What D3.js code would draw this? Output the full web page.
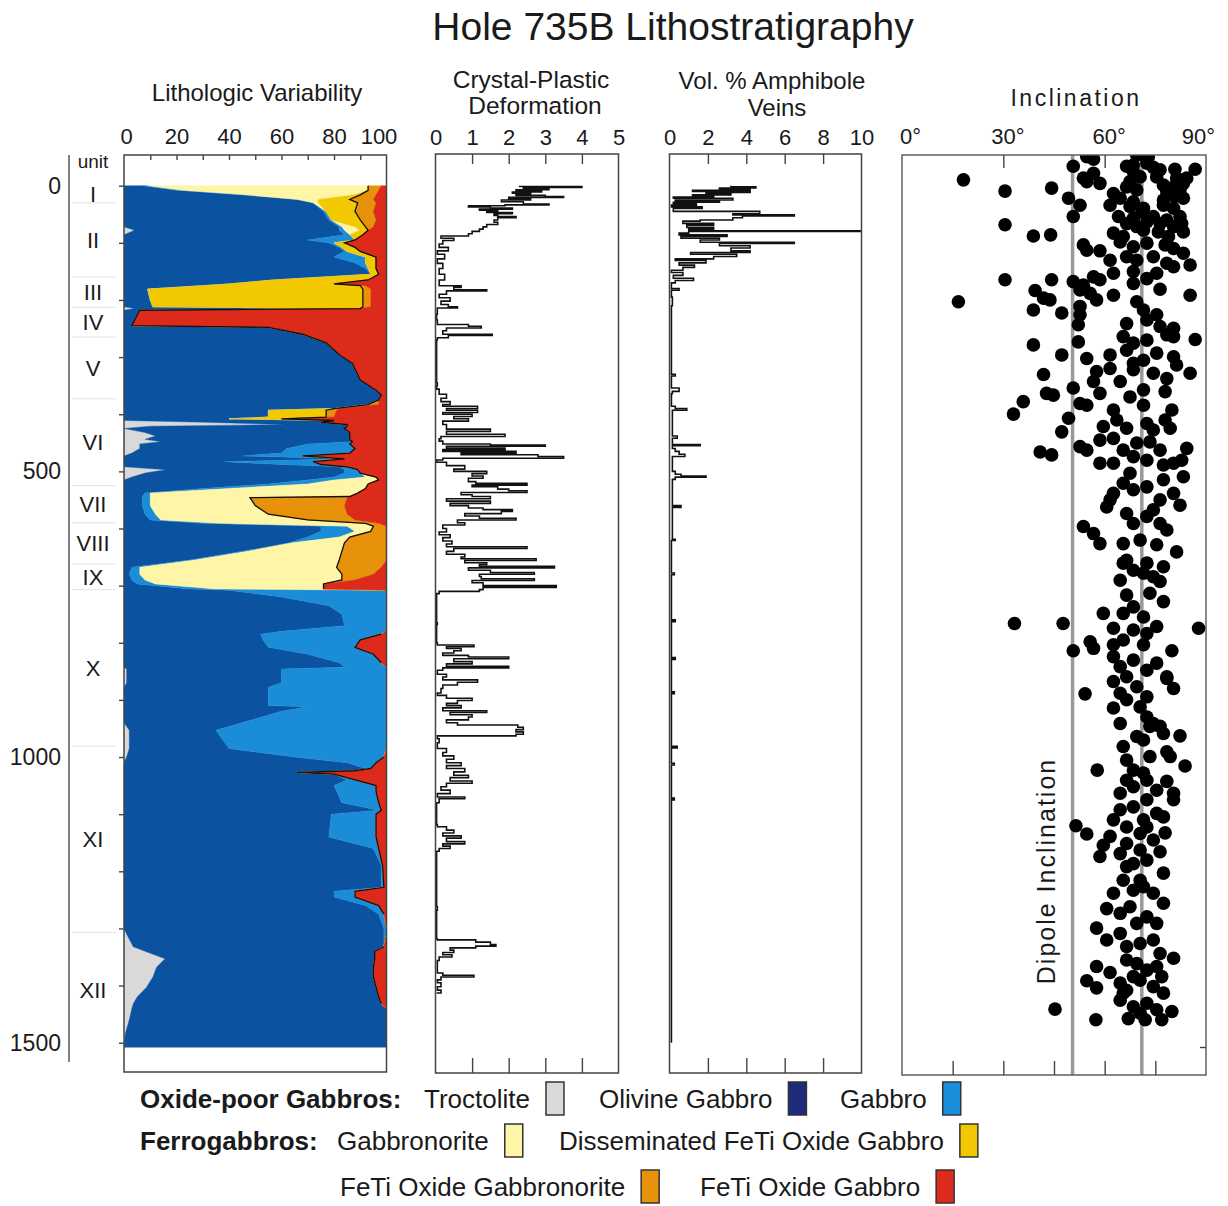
<!DOCTYPE html>
<html>
<head>
<meta charset="utf-8">
<script src="https://cdn.jsdelivr.net/npm/d3@7"></script>
<style>
  body { margin: 0; background: #fff; }
  text { font-family: "Liberation Sans", Arial, Helvetica, sans-serif; }
</style>
</head>
<body>
<script>
// ---- data -------------------------------------------------------------
// lithology, percent of core per depth sample (m)
let depths = [0,8,16,24,30,45,60,72,78,86,
  95,100,108,115,125,135,145,155,165,172,
  175,181,200,212,215,218,245,248,260,275,
  296,311,340,358,366,375,383,390,393,405,
  408,411,414,418,421,425,432,438,444,448,
  452,460,468,473,478,483,488,492,497,503,
  510,515,522,530,538,544,546,560,575,585,
  591,596,605,615,625,640,655,668,680,690,
  697,706,708,720,735,750,770,780,785,795,
  808,820,835,843,846,870,878,910,912,920,
  940,953,985,1000,1010,1020,1024,1027,1030,1040,
  1050,1060,1080,1093,1100,1140,1160,1190,1228,1235,
  1245,1260,1275,1300,1310,1332,1340,1353,1368,1385,
  1403,1420,1432,1440,1460,1484,1508];

let troctolite = [0,0,0,0,0,0,0,0,4,0,
  0,0,0,0,0,0,0,0,0,0,
  0,0,0,0,4,0,0,0,0,0,
  0,0,0,0,0,0,0,0,0,0,
  0,0,30,62,10,0,8,12,8,14,
  6,6,3,0,0,0,0,0,16,8,
  3,0,0,0,0,0,0,0,0,0,
  0,0,0,0,0,0,0,0,0,0,
  0,0,0,0,0,0,0,0,0,0,
  0,0,0,0,1,1,0,0,0,0,
  0,2,2,1,0,0,0,0,0,0,
  0,0,0,0,0,0,0,0,0,0,
  0,0,0,0,1,3.5,8,15.6,12.4,11,
  8.6,5,3.5,3,2,0.5,0];

let olivineGabbro = [7,20,45,66,72,76,78,82,78,84,
  70,78,82,84,80,88,92,94,57,40,
  30,9,10,11,86,6,3,55,68,77,
  82,87,90,96,98,97,93,80,55,55,
  40,80,45,23,75,84,78,74,78,73,
  64,56,57,45,84,38,60,82,68,76,
  77,70,55,30,8,7,7,7,8,10,
  30,75,75,70,63,45,25,3,2,3,
  5,25,40,60,78,83,84,60,52,53,
  55,70,82,84,59,59,55,55,70,60,
  45,33,38,64,85,92,88,66,80,85,
  80,81,83,97,79,78,95,98,98,80,
  80,92,97,99,98,95.5,87.5,79.9,82.6,84,
  87.4,92,94.5,97,98,99.5,100];

let gabbro = [2,2,1,0,0,1,1,1,2,2,
  18,2,1,1,12,4,1,0,0,0,
  0,0,0,0,0,0,0,0,0,0,
  0,0,0,0,0,0,0,0,0,0,
  0,0,0,0,0,0,0,0,0,0,
  16,26,26,23,0,34,15,3,5,6,
  12,10,15,10,2,3,3,3,4,4,
  6,10,13,12,1,2,2,3,4,5,
  7,10,60,40,22,17,16,40,46,37,
  33,25,16,16,40,40,45,45,30,40,
  55,65,60,34,11,2,0,0,0,3,
  16,15,14,1,17,18,2,0.5,1,8,
  8,5,2,1,1,0,0,0,0,0,
  0,0,0,0,0,0,0];

let gabbronorite = [84,71,42,8,2,0,0,5,6,0,
  0,0,0,0,0,0,0,0,0,0,
  0,0,0,0,0,0,0,0,0,0,
  0,0,0,0,0,0,0,0,0,0,
  0,0,0,0,0,0,0,0,0,0,
  0,0,0,0,0,0,0,0,0,0,
  4,17,23,52,79,76,38,40,43,56,
  56,10,6,4,20,36,55,75,77,75,
  64,41,0,0,0,0,0,0,0,0,
  0,0,0,0,0,0,0,0,0,0,
  0,0,0,0,0,0,0,0,0,0,
  0,0,0,0,0,0,0,0,0,0,
  0,0,0,0,0,0,0,0,0,0,
  0,0,0,0,0,0,0];

let dissOxideGabbro = [0,0,2,12,15,11,11,4,3,5,
  0,4,5,5,4,4,3,3,36,40,
  60,82,81,80,0,0,0,0,0,0,
  0,0,0,0,0,0,0,0,22,22,
  20,0,0,0,0,0,0,0,0,0,
  0,0,0,0,0,0,0,0,0,0,
  0,0,0,0,0,0,0,0,0,0,
  0,0,0,0,0,0,0,0,0,0,
  0,0,0,0,0,0,0,0,0,0,
  0,0,0,0,0,0,0,0,0,0,
  0,0,0,0,0,0,0,0,0,0,
  0,0,0,0,0,0,0,0,0,0,
  0,0,0,0,0,0,0,0,0,0,
  0,0,0,0,0,0,0];

let oxideGabbronorite = [5,4,6,9,7,7,6,3,0,0,
  0,0,0,0,0,0,0,0,0,0,
  2,3,3,3,0,0,0,0,0,0,
  0,0,0,0,0,0,4,2,4,3,
  0,0,0,0,0,0,0,0,0,0,
  0,0,0,0,0,0,0,0,0,0,
  0,0,0,0,0,0,37,34,30,18,
  5,5,6,14,16,17,18,17,12,5,
  0,0,0,0,0,0,0,0,0,0,
  0,0,0,0,0,0,0,0,0,0,
  0,0,0,0,0,0,0,0,0,0,
  0,0,0,0,0,0,0,0,0,0,
  0,0,0,0,0,0,0,0,0,0,
  0,0,0,0,0,0,0];

let oxideGabbro = [2,3,4,5,4,5,4,5,7,9,
  12,16,12,10,4,4,4,3,7,20,
  8,6,6,6,10,94,97,45,32,23,
  18,13,10,4,2,3,3,18,19,20,
  40,20,25,15,15,16,14,14,14,13,
  14,12,14,32,16,28,25,15,11,10,
  4,3,7,8,11,14,15,16,15,12,
  3,0,0,0,0,0,0,2,5,12,
  24,24,0,0,0,0,0,0,2,10,
  12,5,2,0,0,0,0,0,0,0,
  0,0,0,1,4,6,12,34,20,12,
  4,4,3,2,4,4,3,1.5,1,12,
  12,3,1,0,0,1,4.5,4.5,5,5,
  4,3,2,0,0,0,0];

let lithKeys = ["troctolite","olivineGabbro","gabbro","gabbronorite","dissOxideGabbro","oxideGabbronorite","oxideGabbro"];
let lithNames = ["Troctolite","Olivine Gabbro","Gabbro","Gabbronorite","Disseminated FeTi Oxide Gabbro","FeTi Oxide Gabbronorite","FeTi Oxide Gabbro"];
let lithColors = ["#d9d9d9","#0b53a0","#1b8dd8","#fff5a6","#f2c800","#e8920c","#dc2b1b"];
let swatchColors = ["#d9d9d9","#1d2b7a","#1b8edc","#fff5a6","#f2c800","#e8920c","#dc2b1b"];

// units
let unitNames = ["I","II","III","IV","V","VI","VII","VIII","IX","X","XI","XII"];
let unitTops = [0,30,160,213,265,373,525,590,662,707,981,1307,1508];

// crystal-plastic deformation [depth m, intensity]
let deformation = [[0,2.3],[1.5,4.0],[3,2.4],[5,3.1],[7,2.2],[9,2.9],[11,2.1],[13,2.6],[15,2.2],[17,3.0],
  [19,3.5],[20.5,2.0],[23,2.6],[25,1.8],[28,2.4],[32,3.1],[33.5,1.9],[35,0.9],[37,1.5],[39,2.1],
  [41,1.2],[43,1.7],[45,1.4],[47,2.1],[49,1.6],[52,1.7],[54,2.2],[56,1.7],[60,1.6],[64,1.7],
  [68,1.4],[72,1.3],[76,1.2],[80,1.0],[84,0.9],[88,0.15],[92,0.5],[96,0.2],[102,0.1],[108,0.35],
  [114,0.05],[120,0.25],[128,0.05],[136,0.2],[145,0.1],[155,0.25],[165,0.1],[175,0.7],[178,0.5],[182,1.4],
  [184,0.3],[190,0.1],[196,0.4],[202,0.15],[208,0.35],[212,0.6],[214,0.05],[225,0.03],[235,0.05],[243,0.9],
  [246,1.25],[249,0.3],[254,0.2],[260,1.55],[262,0.35],[266,0.05],[270,0.03],[345,0.05],[350,0.03],[356,0.1],
  [365,0.3],[372,0.15],[378,0.4],[383,0.2],[386,1.15],[390,0.3],[393,1.15],[397,0.2],[400,1.0],[404,0.5],
  [408,0.9],[412,0.2],[418,0.3],[426,1.5],[430,0.3],[435,1.9],[439,0.15],[443,0.1],[447,0.2],[452,1.5],
  [454,3.0],[456,0.3],[459,1.9],[462,0.2],[465,2.2],[468,0.7],[471,2.8],[474,3.5],[477,0.2],[480,0.03],
  [484,0.3],[490,0.8],[496,0.5],[500,1.4],[504,1.0],[508,1.3],[512,0.9],[518,1.1],[521,2.5],[524,1.0],
  [527,1.7],[531,2.0],[534,2.5],[537,0.7],[541,1.0],[544,1.5],[548,0.3],[552,1.5],[556,0.4],[560,0.9],
  [564,1.3],[567,2.1],[570,1.8],[574,0.8],[578,1.2],[582,2.2],[585,0.6],[590,0.8],[594,0.2],[600,0.3],
  [606,0.1],[611,0.4],[616,0.2],[622,0.45],[627,0.3],[632,2.5],[635,0.5],[640,0.3],[645,0.8],[650,0.7],
  [653,2.75],[656,0.8],[660,1.4],[663,1.2],[666,3.25],[669,0.9],[673,1.5],[677,2.7],[680,1.2],[684,1.25],
  [688,2.7],[691,1.0],[695,1.3],[700,3.3],[703,1.3],[707,1.2],[710,0.1],[714,0.03],[765,0.05],[768,0.03],
  [800,0.05],[804,1.05],[807,0.3],[810,0.7],[814,0.5],[818,0.2],[822,0.9],[825,2.0],[828,0.5],[833,1.0],
  [837,0.3],[841,2.0],[844,0.2],[848,0.05],[855,0.3],[860,0.2],[865,1.15],[869,0.6],[874,0.2],[880,0.15],
  [888,0.05],[892,0.3],[897,1.0],[901,0.6],[906,0.3],[910,0.7],[914,0.2],[919,1.4],[922,0.4],[926,1.0],
  [930,0.9],[935,0.3],[940,0.6],[944,2.25],[948,2.4],[952,2.2],[956,2.4],[960,2.2],[963,0.05],[968,0.1],
  [975,0.05],[985,0.3],[992,0.2],[998,0.5],[1004,0.3],[1010,0.7],[1015,0.3],[1020,0.8],[1026,0.5],[1032,0.9],
  [1036,0.4],[1042,1.0],[1046,0.3],[1052,0.15],[1058,0.4],[1064,0.05],[1070,0.8],[1073,0.1],[1080,0.03],[1118,0.05],
  [1122,0.3],[1128,0.5],[1133,0.2],[1138,0.7],[1142,0.3],[1148,0.8],[1152,0.2],[1156,0.4],[1160,0.1],[1165,0.03],
  [1262,0.05],[1268,0.03],[1318,0.05],[1320,1.1],[1324,1.5],[1328,1.65],[1331,1.1],[1334,0.4],[1338,0.5],[1342,0.2],
  [1346,0.45],[1350,0.1],[1356,0.05],[1378,0.2],[1382,1.05],[1385,0.15],[1390,0.05],[1395,0.15],[1402,0.05],[1408,0.15],
  [1413,0.03]];

// amphibole veins, vol. % [depth m, percent]
let amphibole = [[0,3.2],[2,4.5],[4,2.6],[6,4.2],[8,1.2],[10,4.2],[12,1.9],[14,3.2],[16,1.2],[18,2.3],
  [20,0.2],[22,3.3],[25,0.3],[27,2.6],[29,0.2],[31,1.4],[34,0.1],[37,1.7],[40,0.2],[45,4.7],
  [49,3.3],[51,6.5],[53,3.8],[56,3.3],[60,1.6],[62,0.7],[66,2.3],[69,0.9],[73,2.3],[76,1.0],
  [79,10],[80,1.0],[83,0.5],[86,3.0],[89,0.6],[92,2.6],[95,1.6],[99,6.5],[101,2.6],[105,4.2],
  [109,3.2],[114,4.2],[117,1.1],[120,3.5],[124,2.3],[128,0.3],[131,1.9],[135,0.5],[139,1.3],[143,0.7],
  [148,0.1],[152,0.7],[157,0.2],[162,1.25],[166,0.3],[170,0.1],[180,0.5],[183,0.1],[195,0.15],[210,0.1],
  [330,0.3],[333,0.1],[354,0.5],[360,0.15],[364,0.1],[386,0.3],[390,0.9],[393,0.15],[438,0.4],[442,0.15],
  [453,1.6],[455,0.15],[460,0.3],[465,0.5],[470,0.8],[474,0.15],[500,0.3],[505,0.6],[508,1.9],[510,0.3],
  [514,0.15],[560,0.6],[563,0.15],[619,0.3],[621,0.1],[678,0.25],[681,0.1],[760,0.3],[763,0.1],[826,0.3],
  [829,0.1],[886,0.25],[889,0.1],[981,0.4],[984,0.1],[1011,0.25],[1014,0.1],[1072,0.25],[1075,0.1],[1500,0.1]];

// paleomagnetic inclination [depth m, degrees]
let inclination = [
  [3,54.7],[7,56.7],[0,69.5],[0,71.5],[4,72.9],[19,50.7],[19,66.5],[17,68.5],[14,72.5],[21,74.4],
  [25,76.4],[24,80.8],[24,86.8],[39,53.7],[31,56.7],[28,68.5],[37,70.5],[37,75.4],[39,81.3],[39,84.3],
  [42,18.2],[45,54.7],[48,58.6],[45,67.5],[54,66.5],[51,77.4],[54,80.4],[48,83.3],[61,30.5],[56,44.3],
  [65,62.6],[59,69.5],[62,78.4],[59,82.3],[73,49.3],[73,64.6],[79,68.5],[76,77.4],[70,80.8],[73,83.3],
  [85,52.7],[85,61.6],[87,67.5],[90,71.5],[85,77.4],[90,80.4],[104,50.7],[104,64.1],[96,71],[107,68.5],
  [104,74.4],[110,78.4],[104,82.3],[118,30.5],[116,66.5],[121,69.5],[113,72.5],[116,76.4],[121,80.4],[116,82.8],
  [137,38.9],[135,44],[132,62.6],[138,65.5],[127,71.5],[130,75.9],[138,78.9],[130,83.3],[152,53.7],[161,54.7],
  [162,58.6],[147,64.6],[155,68.5],[149,72.5],[152,77.9],[158,80.4],[166,83.3],[172,66.5],[178,69.5],[172,74.4],
  [183,78.4],[186,85.3],[189,80.4],[178,61.6],[211,30.5],[211,44.3],[214,50.7],[220,53.7],[206,56.7],[211,58.6],
  [200,62.6],[197,68.5],[200,75.4],[209,72.5],[229,39.4],[242,41.9],[245,43.8],[228,52.7],[234,55.7],[237,62.6],
  [217,68.5],[227,76.4],[237,85.3],[248,16.7],[262,38.9],[267,47.3],[256,52.7],[245,57.6],[270,52.7],[248,69.5],
  [262,71.5],[287,52.2],[285,66.5],[279,72.5],[270,75.4],[290,76.4],[304,78.4],[293,80.4],[321,38.9],[316,52.2],
  [307,65.5],[313,72.5],[318,68.5],[312,86.8],[307,80.4],[338,47.3],[344,54.7],[338,61.6],[330,66.5],[352,68.5],
  [347,71.5],[335,75.4],[341,80.4],[355,81.3],[371,41.9],[366,57.6],[361,61.6],[383,56.7],[383,64.6],[363,68.5],
  [369,74.4],[378,78.4],[369,85.3],[394,50.7],[403,42.8],[406,44.8],[420,52.7],[403,58.6],[409,67.5],[397,71.5],
  [400,77.9],[417,35.9],[438,33],[423,54.7],[431,62.6],[423,71.5],[431,79.9],[445,49.3],[468,47.3],[459,59.6],
  [448,63.6],[462,66.5],[454,72.5],[465,74.4],[448,77.9],[462,79.4],[502,40.9],[507,44.3],[493,52.7],[482,58.6],
  [479,62.6],[499,54.7],[499,65.5],[487,69.5],[485,73.4],[499,76.4],[496,84.3],[521,58.6],[521,62.6],[510,68.5],
  [516,72.5],[524,77.4],[521,80.4],[516,82.8],[555,65.5],[538,67.5],[572,62.6],[583,61.6],[566,68.5],[561,72.5],
  [549,77.4],[572,80.4],[544,83.3],[583,76.4],[600,74.4],[592,82.3],[595,60.6],[606,66.5],[623,68.5],[611,72.5],
  [623,76.4],[634,78.4],[628,53.7],[640,56.7],[657,58.6],[657,65.5],[651,70.5],[659,75.4],[671,81.3],[685,66.5],
  [690,72.5],[690,65.5],[702,68.5],[707,71.5],[713,74.4],[696,77.4],[721,76.4],[719,64.6],[744,66.5],[775,65.5],
  [764,68.5],[781,71.5],[755,77.4],[775,59.6],[741,73.4],[792,33.3],[792,47.7],[800,62.6],[803,68.5],[809,72.5],
  [797,75.4],[800,87.8],[838,50.7],[823,55.7],[834,56.7],[828,62.6],[820,65.5],[828,71.5],[838,79.9],[848,62.6],
  [865,64.6],[854,68.5],[871,72.5],[859,75.4],[882,78.4],[882,66.5],[911,54.2],[890,62.6],[910,64.6],[899,69.5],
  [916,72.5],[902,80.4],[885,78.4],[935,62.6],[921,66.5],[933,70.5],[950,72.5],[961,74.4],[961,64.6],[966,76.4],
  [1000,65.5],[983,69.5],[989,71.5],[978,77.4],[982,82.3],[966,73.4],[1040,57.8],[1023,66.5],[1040,68.5],[1045,71.5],
  [1017,73.4],[1009,78.4],[1033,83.8],[1017,79.4],[1057,66.5],[1068,68.5],[1057,72.5],[1074,75.4],[1059,78.4],[1079,80.4],
  [1079,64.6],[1107,64.6],[1124,62.6],[1102,68.5],[1090,72.5],[1113,75.4],[1119,77.4],[1090,80.4],[1124,71.5],[1134,51.5],
  [1148,54.7],[1152,61.6],[1167,59.6],[1136,66.5],[1147,70.5],[1136,72.5],[1146,77.9],[1164,66.5],[1158,74.4],[1186,58.6],
  [1181,64.6],[1203,66.5],[1175,70.5],[1178,76.4],[1192,72.5],[1214,77.4],[1198,68.5],[1226,65.5],[1243,68.5],[1248,62.6],
  [1237,71.5],[1248,74.4],[1265,77.4],[1226,70.5],[1274,60.6],[1282,64.6],[1271,67.5],[1288,72.5],[1299,75.4],[1307,57.6],
  [1299,69.5],[1327,60.6],[1316,64.6],[1338,66.5],[1333,70.5],[1327,74.4],[1358,80.4],[1350,76.4],[1372,57.6],[1382,61.6],
  [1361,66.5],[1367,69.5],[1378,72.5],[1372,75.4],[1389,68.5],[1389,76.9],[1396,54.7],[1408,57.6],[1400,64.6],[1412,66.5],
  [1395,70.5],[1406,74.4],[1417,77.4],[1417,65.5],[1429,64.6],[1440,68.5],[1434,72.5],[1445,75.4],[1448,79.9],[1444,45.3],
  [1462,57.4],[1460,67],[1462,72],[1462,76.9],[1451,70.5]];

let dipoleLines = [50.5, 71];

let lithTicks = [0,20,40,60,80,100];
let deformTicks = [0,1,2,3,4,5];
let amphTicks = [0,2,4,6,8,10];
let incTicks = [0,30,60,90];
let depthTicks = [0,500,1000,1500];

// ---- layout ----------------------------------------------------------
let svg = d3.select("body").append("svg")
  .attr("width", 1228)
  .attr("height", 1206);

let yDepth = d3.scaleLinear().domain([0,1500]).range([185.7,1042.7]);
let yInc = d3.scaleLinear().domain([0,1508]).range([155,1047]);

let xLith = d3.scaleLinear().domain([0,100]).range([124,386.5]);
let xDef = d3.scaleLinear().domain([0,5]).range([435.5,618.5]);
let xAmph = d3.scaleLinear().domain([0,10]).range([669.5,861.5]);
let xInc = d3.scaleLinear().domain([0,90]).range([902,1206]);

let intFmt = d3.format("d");

function label(x, y, txt, size, opts) {
  opts = opts || {};
  return svg.append("text")
    .attr("x", x).attr("y", y)
    .attr("text-anchor", opts.anchor || "middle")
    .attr("font-size", size)
    .attr("font-weight", opts.weight || "normal")
    .style("letter-spacing", opts.spacing || "0px")
    .style("fill", "#1a1a1a")
    .text(txt);
}

function styleAxis(g, size) {
  g.select(".domain").remove();
  g.selectAll("text").attr("font-size", size).style("fill", "#1a1a1a")
    .attr("font-family", "'Liberation Sans', Arial, sans-serif");
  g.selectAll("line").style("stroke", "#444").style("stroke-width", 1.4);
}

let defs = svg.append("defs");
function clip(id, x, y, w, h) {
  defs.append("clipPath").attr("id", id).append("rect")
    .attr("x", x).attr("y", y).attr("width", w).attr("height", h);
}
clip("clipLith", 124, 155, 262.5, 917);
clip("clipDef", 435.5, 154, 183, 919);
clip("clipAmph", 669.5, 154, 192, 919);
clip("clipInc", 902, 155, 304, 920);

// titles
label(673, 40, "Hole 735B Lithostratigraphy", 39);
label(257, 101, "Lithologic Variability", 24);
label(531, 88, "Crystal-Plastic", 24.5);
label(535, 114, "Deformation", 24.5);
label(772, 89, "Vol. % Amphibole", 24);
label(777, 116, "Veins", 24);
label(1076, 106, "Inclination", 23, {spacing: "2.5px"});

// ---- depth axis + units --------------------------------------------------
svg.append("line")
  .attr("x1", 69).attr("x2", 69).attr("y1", 155).attr("y2", 1062)
  .style("stroke", "#555").style("stroke-width", 1.5);

let depthAxis = svg.append("g")
  .attr("transform", "translate(61,0)")
  .call(d3.axisLeft(yDepth).tickValues(depthTicks).tickSize(0).tickPadding(0).tickFormat(intFmt));
styleAxis(depthAxis, 23);

label(93, 168, "unit", 19);

svg.selectAll(".unitSep")
  .data(unitTops.slice(1, -1))
  .enter().append("line")
  .attr("x1", 72).attr("x2", 116)
  .attr("y1", d => yDepth(d)).attr("y2", d => yDepth(d))
  .style("stroke", "#e2e2e2").style("stroke-width", 1);

svg.selectAll(".unitLbl")
  .data(unitNames)
  .enter().append("text")
  .attr("x", 93)
  .attr("y", (d, i) => yDepth((unitTops[i] + unitTops[i+1]) / 2) + 8)
  .attr("text-anchor", "middle")
  .attr("font-size", 22)
  .style("fill", "#1a1a1a")
  .text(d => d);

// ---- lithologic variability ------------------------------------------
let series = {troctolite, olivineGabbro, gabbro, gabbronorite, dissOxideGabbro, oxideGabbronorite, oxideGabbro};
let rows = depths.map((d, i) => {
  let r = {depth: d};
  lithKeys.forEach(k => r[k] = series[k][i]);
  return r;
});
let stacked = d3.stack().keys(lithKeys)(rows);

let area = d3.area()
  .y(d => yDepth(d.data.depth))
  .x0(d => xLith(d[0]))
  .x1(d => xLith(d[1]));

let lith = svg.append("g").attr("clip-path", "url(#clipLith)");
lith.selectAll("path.layer")
  .data(stacked)
  .enter().append("path")
  .attr("class", "layer")
  .attr("d", area)
  .style("fill", (d, i) => lithColors[i])
  .style("stroke", (d, i) => lithColors[i])
  .style("stroke-width", 0.4);

// outline of the oxide-bearing part
let oxLine = d3.line()
  .defined(d => d.data.oxideGabbronorite + d.data.oxideGabbro > 0.3)
  .x(d => xLith(d[1]))
  .y(d => yDepth(d.data.depth));
lith.append("path")
  .attr("d", oxLine(stacked[4]))
  .style("fill", "none").style("stroke", "#111").style("stroke-width", 1.3);

svg.append("rect")
  .attr("x", 124).attr("y", 155).attr("width", 262.5).attr("height", 917)
  .style("fill", "none").style("stroke", "#444").style("stroke-width", 1.5);

let lithTop = svg.append("g").attr("transform", "translate(0,155)")
  .call(d3.axisTop(xLith).tickValues(d3.range(10,100,10)).tickSize(-5).tickFormat(""));
styleAxis(lithTop, 22);
let lithLbl = svg.append("g").attr("transform", "translate(0,144)")
  .call(d3.axisTop(xLith).tickValues(lithTicks).tickSize(0).tickPadding(0).tickFormat(intFmt));
styleAxis(lithLbl, 22);
lithLbl.selectAll("text").attr("dx", d => d === 100 ? -8 : (d === 0 ? 2 : 0));
let lithLeft = svg.append("g").attr("transform", "translate(124,0)")
  .call(d3.axisLeft(yDepth).tickValues(d3.range(0,1501,100)).tickSize(5).tickFormat(""));
styleAxis(lithLeft, 22);

// ---- step profiles -----------------------------------------------------
function profile(data, xs, clipId, left, right, ticks, innerTicks) {
  let line = d3.line()
    .x(d => xs(d[1]))
    .y(d => yDepth(d[0]))
    .curve(d3.curveStepBefore);
  svg.append("g").attr("clip-path", "url(#" + clipId + ")")
    .append("path")
    .attr("d", line(data))
    .style("fill", "none").style("stroke", "#111").style("stroke-width", 1.6)
    .style("stroke-linejoin", "miter");

  svg.append("rect")
    .attr("x", left).attr("y", 154).attr("width", right - left).attr("height", 919)
    .style("fill", "none").style("stroke", "#444").style("stroke-width", 1.5);

  let top = svg.append("g").attr("transform", "translate(0,154)")
    .call(d3.axisTop(xs).tickValues(innerTicks).tickSize(-10).tickFormat(""));
  styleAxis(top, 22);
  let bottom = svg.append("g").attr("transform", "translate(0,1073)")
    .call(d3.axisBottom(xs).tickValues(innerTicks).tickSize(-15).tickFormat(""));
  styleAxis(bottom, 22);
  let lbl = svg.append("g").attr("transform", "translate(0,145)")
    .call(d3.axisTop(xs).tickValues(ticks).tickSize(0).tickPadding(0).tickFormat(intFmt));
  styleAxis(lbl, 22);
  return lbl;
}

profile(deformation, xDef, "clipDef", 435.5, 618.5, deformTicks, [1,2,3,4]);
profile(amphibole, xAmph, "clipAmph", 669.5, 861.5, amphTicks, [2,4,6,8]);

// ---- inclination -------------------------------------------------------
let inc = svg.append("g").attr("clip-path", "url(#clipInc)");
inc.selectAll("line.dipole")
  .data(dipoleLines)
  .enter().append("line")
  .attr("class", "dipole")
  .attr("x1", d => xInc(d)).attr("x2", d => xInc(d))
  .attr("y1", 155).attr("y2", 1075)
  .style("stroke", "#999").style("stroke-width", 3.5);

inc.selectAll("circle")
  .data(inclination)
  .enter().append("circle")
  .attr("cx", d => xInc(d[1]))
  .attr("cy", d => yInc(d[0]))
  .attr("r", 6.8)
  .style("fill", "#000");

svg.append("rect")
  .attr("x", 902).attr("y", 155).attr("width", 304).attr("height", 920)
  .style("fill", "none").style("stroke", "#555").style("stroke-width", 1.4);

let incTop = svg.append("g").attr("transform", "translate(0,155)")
  .call(d3.axisTop(xInc).tickValues([30,60]).tickSize(-13).tickFormat(""));
styleAxis(incTop, 22);
let incBottom = svg.append("g").attr("transform", "translate(0,1075)")
  .call(d3.axisBottom(xInc).tickValues([15,30,45,60,75]).tickSize(-14).tickFormat(""));
styleAxis(incBottom, 22);
let incLbl = svg.append("g").attr("transform", "translate(0,144)")
  .call(d3.axisTop(xInc).tickValues(incTicks).tickSize(0).tickPadding(0).tickFormat(d => d + "\u00b0"));
styleAxis(incLbl, 22);
incLbl.selectAll("text").attr("dx", d => d === 0 ? 8 : (d === 90 ? -8 : 4));

let incRight = svg.append("g").attr("transform", "translate(1206,0)")
  .call(d3.axisRight(yInc).tickValues([1508]).tickSize(-6).tickFormat(""));
styleAxis(incRight, 22);

svg.append("text")
  .attr("transform", "translate(1055,871) rotate(-90)")
  .attr("text-anchor", "middle")
  .attr("font-size", 25)
  .style("letter-spacing", "2px")
  .style("fill", "#1a1a1a")
  .text("Dipole Inclination");

// ---- legend ------------------------------------------------------------
label(140, 1108, "Oxide-poor Gabbros:", 26, {anchor: "start", weight: "bold"});
label(140, 1150, "Ferrogabbros:", 26, {anchor: "start", weight: "bold"});

// [lithology index, text x, baseline y]
let legendLayout = [[0,424,1108],[1,599,1108],[2,840,1108],
  [3,337,1150],[4,559,1150],[5,340,1196],[6,700,1196]];

legendLayout.forEach(l => {
  let t = label(l[1], l[2], lithNames[l[0]], 26, {anchor: "start"});
  let w = t.node().getComputedTextLength();
  svg.append("rect")
    .attr("x", l[1] + w + 16).attr("y", l[2] - 26)
    .attr("width", 18).attr("height", 33)
    .style("fill", swatchColors[l[0]])
    .style("stroke", "#333").style("stroke-width", 1.5);
});
</script>
</body>
</html>
